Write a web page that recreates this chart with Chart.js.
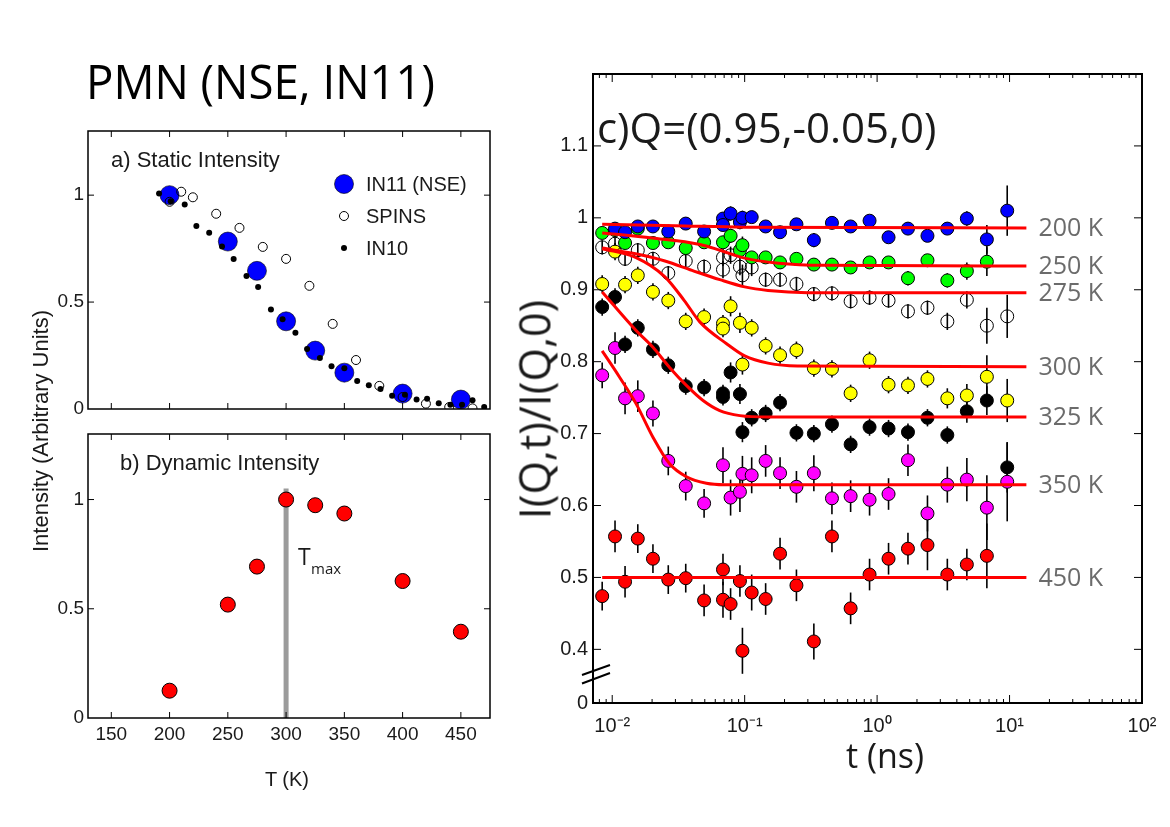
<!DOCTYPE html>
<html lang="en">
<head>
<meta charset="UTF-8">
<title>PMN (NSE, IN11)</title>
<script src="https://cdn.jsdelivr.net/npm/chart.js"></script>
<style>
  body { margin: 0; background: #fff; }
  #page { position: relative; width: 1170px; height: 827px; overflow: hidden; background: #fff; }
  #page canvas { position: absolute; left: 0; top: 0; }
  .lbl { position: absolute; white-space: nowrap; color: #1a1a1a; line-height: 1; }
  .sans { font-family: 'Liberation Sans', Arial, sans-serif; }
  .myr { font-family: 'Open Sans', sans-serif; }
  .rot { text-align: center; transform: rotate(-90deg); transform-origin: 50% 50%; }
</style>
</head>
<body>
<div id="page">
  <canvas id="chartA" width="1170" height="827"></canvas>
  <canvas id="chartB" width="1170" height="827"></canvas>
  <canvas id="chartC" width="1170" height="827"></canvas>

  <div class="lbl myr" style="left:86px;top:57px;font-size:48px;color:#000;transform:scaleX(0.95);transform-origin:0 0">PMN (NSE, IN11)</div>
  <div class="lbl sans" style="left:111px;top:149px;font-size:22px">a) Static Intensity</div>
  <div class="lbl sans" style="left:120px;top:452px;font-size:22px">b) Dynamic Intensity</div>
  <div class="lbl myr" style="left:298px;top:545px;font-size:23px">T</div>
  <div class="lbl myr" style="left:311px;top:561px;font-size:15px">max</div>
  <div class="lbl sans rot" style="left:-159px;top:420px;width:400px;font-size:22px">Intensity (Arbitrary Units)</div>
  <div class="lbl sans" style="left:187px;top:769px;width:200px;text-align:center;font-size:20px">T (K)</div>

  <div class="lbl myr" style="left:597px;top:106px;font-size:42px">c)Q=(0.95,-0.05,0)</div>
  <div class="lbl myr rot" style="left:334px;top:388px;width:400px;font-size:43px">I(Q,t)/I(Q,0)</div>
  <div class="lbl myr" style="left:785px;top:738px;width:200px;text-align:center;font-size:34px">t (ns)</div>
</div>

<script>
// ---------- a) static intensity ----------
const tempIN11 = [200, 250, 275, 300, 325, 350, 400, 450];
const staticIN11 = [1.0, 0.783, 0.646, 0.41, 0.273, 0.17, 0.072, 0.044];
const tempSPINS = [200, 210, 220, 240, 260, 280, 300, 320, 340, 360, 380, 400, 420, 440, 460];
const staticSPINS = [0.969, 1.016, 0.99, 0.913, 0.847, 0.758, 0.702, 0.576, 0.398, 0.229, 0.108, 0.056, 0.025, 0.009, 0.003];
const tempIN10 = [191, 201, 213, 223, 234, 245, 255, 266, 276, 287, 297, 308, 318, 329, 339, 350, 361, 371, 381, 391, 402, 412, 421, 431, 441, 451, 460, 470];
const staticIN10 = [1.008, 0.972, 0.956, 0.856, 0.824, 0.76, 0.702, 0.622, 0.571, 0.465, 0.42, 0.356, 0.281, 0.239, 0.2, 0.19, 0.131, 0.111, 0.094, 0.062, 0.067, 0.045, 0.048, 0.027, 0.02, 0.02, 0.041, 0.009];

// ---------- b) dynamic intensity ----------
const tempDyn = [200, 250, 275, 300, 325, 350, 400, 450];
const dynInt = [0.125, 0.519, 0.693, 1.0, 0.974, 0.936, 0.627, 0.395];
const tmaxT = [300, 300];
const tmaxI = [0, 1.05];

const tempTicks = [150, 200, 250, 300, 350, 400, 450];
const intTicks = [0, 0.5, 1];

// ---------- c) I(Q,t)/I(Q,0) ----------
const t200 = [0.0105, 0.0125, 0.0156, 0.0203, 0.0265, 0.0359, 0.0494, 0.0686, 0.0686, 0.0783, 0.0921, 0.0962, 0.113, 0.144, 0.185, 0.246, 0.333, 0.456, 0.631, 0.877, 1.22, 1.71, 2.40, 3.39, 4.76, 6.74, 9.6];
const v200 = [0.985, 0.980, 0.988, 0.988, 0.981, 0.992, 0.981, 0.999, 0.990, 1.006, 0.994, 1.000, 1.001, 0.988, 0.980, 0.991, 0.969, 0.993, 0.988, 0.996, 0.973, 0.985, 0.975, 0.985, 0.999, 0.970, 1.010];
const e200 = [0.006, 0.006, 0.006, 0.006, 0.006, 0.007, 0.007, 0.008, 0.008, 0.010, 0.010, 0.010, 0.008, 0.007, 0.008, 0.008, 0.010, 0.008, 0.007, 0.008, 0.007, 0.008, 0.008, 0.008, 0.010, 0.020, 0.035];

const t250 = [0.0084, 0.0105, 0.0125, 0.0156, 0.0203, 0.0265, 0.0359, 0.0494, 0.0686, 0.0783, 0.0921, 0.0962, 0.113, 0.144, 0.185, 0.246, 0.333, 0.456, 0.631, 0.877, 1.22, 1.71, 2.40, 3.39, 4.76, 6.74];
const v250 = [0.979, 0.983, 0.965, 0.985, 0.965, 0.966, 0.958, 0.966, 0.966, 0.975, 0.955, 0.962, 0.945, 0.945, 0.938, 0.943, 0.935, 0.935, 0.931, 0.938, 0.938, 0.916, 0.941, 0.913, 0.926, 0.939];
const e250 = [0.008, 0.008, 0.008, 0.008, 0.008, 0.008, 0.008, 0.008, 0.008, 0.010, 0.010, 0.012, 0.008, 0.008, 0.008, 0.008, 0.008, 0.008, 0.008, 0.008, 0.008, 0.010, 0.008, 0.010, 0.012, 0.020];

const t275 = [0.0084, 0.0105, 0.0125, 0.0156, 0.0203, 0.0265, 0.0359, 0.0494, 0.0686, 0.0686, 0.0783, 0.0921, 0.0962, 0.113, 0.144, 0.185, 0.246, 0.333, 0.456, 0.631, 0.877, 1.22, 1.71, 2.40, 3.39, 4.76, 6.74, 9.6];
const v275 = [0.959, 0.964, 0.943, 0.955, 0.943, 0.923, 0.940, 0.932, 0.945, 0.928, 0.948, 0.932, 0.920, 0.931, 0.914, 0.914, 0.908, 0.894, 0.895, 0.884, 0.889, 0.885, 0.870, 0.875, 0.856, 0.886, 0.850, 0.863];
const e275 = [0.010, 0.010, 0.010, 0.010, 0.010, 0.010, 0.010, 0.010, 0.012, 0.012, 0.012, 0.012, 0.015, 0.012, 0.010, 0.010, 0.010, 0.010, 0.010, 0.010, 0.010, 0.010, 0.010, 0.010, 0.012, 0.012, 0.025, 0.030];

const t300 = [0.0084, 0.0105, 0.0125, 0.0156, 0.0203, 0.0265, 0.0359, 0.0494, 0.0686, 0.0686, 0.0783, 0.0921, 0.0962, 0.113, 0.144, 0.185, 0.246, 0.333, 0.456, 0.631, 0.877, 1.22, 1.71, 2.40, 3.39, 4.76, 6.74, 9.6];
const v300 = [0.908, 0.953, 0.907, 0.920, 0.897, 0.885, 0.856, 0.862, 0.853, 0.846, 0.877, 0.854, 0.796, 0.847, 0.822, 0.809, 0.816, 0.791, 0.790, 0.756, 0.802, 0.768, 0.767, 0.776, 0.749, 0.753, 0.779, 0.746];
const e300 = [0.012, 0.012, 0.012, 0.012, 0.012, 0.012, 0.012, 0.012, 0.012, 0.012, 0.014, 0.014, 0.014, 0.012, 0.012, 0.012, 0.012, 0.012, 0.012, 0.012, 0.012, 0.012, 0.012, 0.012, 0.014, 0.016, 0.030, 0.030];

const t325 = [0.0084, 0.0105, 0.0125, 0.0156, 0.0203, 0.0265, 0.0359, 0.0494, 0.0686, 0.0686, 0.0783, 0.0921, 0.0962, 0.113, 0.144, 0.185, 0.246, 0.333, 0.456, 0.631, 0.877, 1.22, 1.71, 2.40, 3.39, 4.76, 6.74, 9.6];
const v325 = [0.876, 0.890, 0.824, 0.847, 0.817, 0.795, 0.766, 0.764, 0.756, 0.751, 0.785, 0.755, 0.702, 0.722, 0.728, 0.743, 0.701, 0.700, 0.713, 0.685, 0.709, 0.707, 0.702, 0.722, 0.698, 0.731, 0.746, 0.653];
const e325 = [0.012, 0.012, 0.012, 0.012, 0.012, 0.012, 0.012, 0.012, 0.012, 0.012, 0.014, 0.014, 0.014, 0.012, 0.012, 0.012, 0.012, 0.012, 0.012, 0.012, 0.012, 0.012, 0.012, 0.012, 0.012, 0.016, 0.020, 0.035];

const t350 = [0.0084, 0.0105, 0.0125, 0.0156, 0.0203, 0.0265, 0.0359, 0.0494, 0.0686, 0.0783, 0.0921, 0.0962, 0.113, 0.144, 0.185, 0.246, 0.333, 0.456, 0.631, 0.877, 1.22, 1.71, 2.40, 3.39, 4.76, 6.74, 9.6];
const v350 = [0.781, 0.819, 0.749, 0.752, 0.728, 0.662, 0.627, 0.603, 0.656, 0.611, 0.619, 0.644, 0.642, 0.662, 0.645, 0.626, 0.645, 0.610, 0.613, 0.608, 0.616, 0.663, 0.589, 0.629, 0.636, 0.597, 0.633];
const e350 = [0.018, 0.022, 0.022, 0.022, 0.018, 0.020, 0.020, 0.020, 0.025, 0.025, 0.028, 0.025, 0.025, 0.022, 0.022, 0.022, 0.025, 0.022, 0.022, 0.022, 0.022, 0.022, 0.025, 0.025, 0.030, 0.045, 0.055];

const t450 = [0.0084, 0.0105, 0.0125, 0.0156, 0.0203, 0.0265, 0.0359, 0.0494, 0.0686, 0.0686, 0.0783, 0.0921, 0.0962, 0.113, 0.144, 0.185, 0.246, 0.333, 0.456, 0.631, 0.877, 1.22, 1.71, 2.40, 3.39, 4.76, 6.74];
const v450 = [0.474, 0.557, 0.494, 0.554, 0.526, 0.497, 0.499, 0.468, 0.511, 0.469, 0.463, 0.495, 0.398, 0.479, 0.470, 0.533, 0.489, 0.411, 0.557, 0.457, 0.504, 0.526, 0.540, 0.545, 0.504, 0.518, 0.530];
const e450 = [0.020, 0.022, 0.022, 0.020, 0.020, 0.020, 0.020, 0.022, 0.022, 0.025, 0.022, 0.022, 0.032, 0.025, 0.022, 0.022, 0.022, 0.025, 0.022, 0.022, 0.022, 0.022, 0.022, 0.035, 0.022, 0.022, 0.045];

// fitted curves
const fitT200 = [0.0084, 0.03, 0.1, 13.4];
const fitV200 = [0.991, 0.989, 0.987, 0.986];
const fitT250 = [0.0084, 0.02, 0.046, 0.065, 0.1, 0.18, 0.4, 13.4];
const fitV250 = [0.979, 0.972, 0.963, 0.955, 0.944, 0.937, 0.934, 0.933];
const fitT275 = [0.0084, 0.015, 0.025, 0.04, 0.065, 0.1, 0.15, 0.3, 13.4];
const fitV275 = [0.958, 0.950, 0.940, 0.927, 0.914, 0.904, 0.899, 0.896, 0.896];
const fitT300 = [0.0084, 0.015, 0.025, 0.035, 0.046, 0.073, 0.1, 0.15, 0.25, 13.4];
const fitV300 = [0.957, 0.945, 0.918, 0.885, 0.855, 0.825, 0.808, 0.798, 0.794, 0.793];
const fitT325 = [0.0084, 0.0152, 0.0203, 0.0271, 0.0363, 0.0485, 0.0648, 0.092, 0.15, 13.4];
const fitV325 = [0.897, 0.843, 0.820, 0.792, 0.767, 0.746, 0.732, 0.725, 0.723, 0.723];
const fitT350 = [0.0084, 0.0114, 0.0152, 0.0203, 0.0271, 0.0363, 0.0514, 0.07, 13.4];
const fitV350 = [0.815, 0.778, 0.741, 0.695, 0.658, 0.640, 0.631, 0.629, 0.629];
const fitT450 = [0.0084, 13.4];
const fitV450 = [0.5, 0.5];

const tempLabels = ['200 K', '250 K', '275 K', '300 K', '325 K', '350 K', '450 K'];
const seriesColors = ['#0000ff', '#00ff00', 'rgba(0,0,0,0)', '#ffff00', '#000000', '#ff00ff', '#ff0000'];
const yTicksC = [0.4, 0.5, 0.6, 0.7, 0.8, 0.9, 1, 1.1];
const yMinC = 0.3254;   // bottom of the broken axis, labelled 0
const xMinC = 0.00716;
const xMaxC = 100;
const decadeLabels = { '-2': '10\u207B\u00B2', '-1': '10\u207B\u00B9', '0': '10\u2070', '1': '10\u00B9', '2': '10\u00B2' };

Chart.defaults.font.family = "'Liberation Sans', Arial, sans-serif";
Chart.defaults.color = '#000';
Chart.defaults.animation = false;
Chart.defaults.events = [];
Chart.defaults.plugins.legend.display = false;
Chart.defaults.plugins.tooltip.enabled = false;

const pts = (xs, ys) => xs.map((x, i) => ({ x: x, y: ys[i] }));

function isMinor(scale, v) {
  if (scale.type !== 'logarithmic') return false;
  const l = Math.log10(v);
  return Math.abs(l - Math.round(l)) > 1e-6;
}

// box + inward ticks on all four sides, like the matlab axes
const frame = {
  id: 'frame',
  afterDraw(chart, args, o) {
    const { ctx, chartArea: a, scales: { x, y } } = chart;
    const len = o.tick || 6, mlen = o.minor || 3;
    ctx.save();
    ctx.strokeStyle = '#000';
    ctx.lineWidth = o.lw || 1.5;
    ctx.strokeRect(a.left, a.top, a.right - a.left, a.bottom - a.top);
    ctx.lineWidth = 1;
    ctx.beginPath();
    x.ticks.forEach(t => {
      const px = x.getPixelForValue(t.value);
      if (px <= a.left + 1 || px >= a.right - 1) return;
      const l = isMinor(x, t.value) ? mlen : len;
      ctx.moveTo(px, a.bottom); ctx.lineTo(px, a.bottom - l);
      ctx.moveTo(px, a.top); ctx.lineTo(px, a.top + l);
    });
    y.ticks.forEach(t => {
      const py = y.getPixelForValue(t.value);
      if (py <= a.top + 1 || py >= a.bottom - 1) return;
      ctx.moveTo(a.left, py); ctx.lineTo(a.left + len, py);
      ctx.moveTo(a.right, py); ctx.lineTo(a.right - len, py);
    });
    ctx.stroke();
    if (o.axisBreak) {
      ctx.lineWidth = 2;
      ctx.beginPath();
      ctx.moveTo(a.left - 11, a.bottom - 28); ctx.lineTo(a.left + 17, a.bottom - 38);
      ctx.moveTo(a.left - 11, a.bottom - 19.5); ctx.lineTo(a.left + 17, a.bottom - 30);
      ctx.stroke();
    }
    ctx.restore();
  }
};

// vertical error bars, drawn under the markers
const errorBars = {
  id: 'errorBars',
  beforeDatasetsDraw(chart) {
    const { ctx, scales: { x, y } } = chart;
    ctx.save();
    ctx.strokeStyle = '#000';
    ctx.lineWidth = 1.6;
    chart.data.datasets.forEach(ds => {
      if (!ds.errors) return;
      ds.data.forEach((p, i) => {
        const px = x.getPixelForValue(p.x);
        ctx.beginPath();
        ctx.moveTo(px, y.getPixelForValue(p.y - ds.errors[i]));
        ctx.lineTo(px, y.getPixelForValue(p.y + ds.errors[i]));
        ctx.stroke();
      });
    });
    ctx.restore();
  }
};

// temperature tags at the right end of every fit
const fitTags = {
  id: 'fitTags',
  afterDatasetsDraw(chart) {
    const { ctx, scales: { x, y } } = chart;
    ctx.save();
    ctx.font = "25px 'Open Sans'";
    ctx.fillStyle = '#6b6b6b';
    ctx.textBaseline = 'middle';
    chart.data.datasets.forEach(ds => {
      if (!ds.tag) return;
      const last = ds.data[ds.data.length - 1];
      ctx.fillText(ds.tag, x.getPixelForValue(last.x) + 12, y.getPixelForValue(last.y) + 1);
    });
    ctx.restore();
  }
};

// legend of panel a, inside the box
const legendA = {
  id: 'legendA',
  afterDraw(chart) {
    const { ctx, chartArea: a } = chart;
    ctx.save();
    ctx.font = "20px 'Liberation Sans'";
    ctx.textBaseline = 'middle';
    chart.data.datasets.forEach((ds, i) => {
      const cx = a.left + 256, cy = a.top + 53 + i * 32;
      ctx.beginPath();
      ctx.arc(cx, cy, ds.pointRadius, 0, Math.PI * 2);
      ctx.fillStyle = ds.backgroundColor;
      ctx.fill();
      if (ds.borderWidth) { ctx.lineWidth = ds.borderWidth; ctx.strokeStyle = ds.borderColor; ctx.stroke(); }
      ctx.fillStyle = '#1a1a1a';
      ctx.fillText(ds.label, cx + 22, cy + 1);
    });
    ctx.restore();
  }
};

function tempAxis(showLabels) {
  return {
    type: 'linear', min: 130, max: 475, bounds: 'data',
    afterBuildTicks: s => { s.ticks = tempTicks.map(v => ({ value: v })); },
    ticks: { display: showLabels, font: { size: 19 }, color: '#1a1a1a', padding: 5, maxRotation: 0, autoSkip: false },
    grid: { display: false, drawTicks: false },
    border: { display: false },
    afterFit: s => { s.height = showLabels ? 40 : 10; }
  };
}

function intAxis() {
  return {
    type: 'linear', min: 0, max: 1.3, bounds: 'data',
    afterBuildTicks: s => { s.ticks = intTicks.map(v => ({ value: v })); },
    ticks: { font: { size: 19 }, color: '#1a1a1a', padding: 4, callback: v => String(v) },
    grid: { display: false, drawTicks: false },
    border: { display: false },
    afterFit: s => { s.width = 60; }
  };
}

// panel a
new Chart(document.getElementById('chartA'), {
  type: 'scatter',
  data: {
    datasets: [
      { label: 'IN11 (NSE)', data: pts(tempIN11, staticIN11), backgroundColor: '#0000ff', borderColor: '#000', borderWidth: 0.6, pointRadius: 9.5, order: 3 },
      { label: 'SPINS', data: pts(tempSPINS, staticSPINS), backgroundColor: 'rgba(0,0,0,0)', borderColor: '#000', borderWidth: 1, pointRadius: 4.5, order: 2 },
      { label: 'IN10', data: pts(tempIN10, staticIN10), backgroundColor: '#000', borderColor: '#000', borderWidth: 0, pointRadius: 3, order: 1 }
    ]
  },
  options: {
    responsive: false,
    layout: { padding: { left: 28, right: 680, top: 131, bottom: 408 }, autoPadding: false },
    scales: { x: tempAxis(false), y: intAxis() },
    plugins: { frame: { tick: 6 } }
  },
  plugins: [frame, legendA]
});

// panel b
new Chart(document.getElementById('chartB'), {
  type: 'scatter',
  data: {
    datasets: [
      { label: 'dynamic', data: pts(tempDyn, dynInt), backgroundColor: '#ff0000', borderColor: '#000', borderWidth: 1, pointRadius: 7.5, order: 1 },
      { label: 'Tmax', data: pts(tmaxT, tmaxI), showLine: true, borderColor: '#9b9b9b', borderWidth: 5, pointRadius: 0, order: 2 }
    ]
  },
  options: {
    responsive: false,
    layout: { padding: { left: 28, right: 680, top: 434, bottom: 69 }, autoPadding: false },
    scales: { x: tempAxis(true), y: intAxis() },
    plugins: { frame: { tick: 6 } }
  },
  plugins: [frame]
});

// panel c
const pointSets = [
  [t200, v200, e200], [t250, v250, e250], [t275, v275, e275], [t300, v300, e300],
  [t325, v325, e325], [t350, v350, e350], [t450, v450, e450]
];
const fitSets = [
  [fitT200, fitV200], [fitT250, fitV250], [fitT275, fitV275], [fitT300, fitV300],
  [fitT325, fitV325], [fitT350, fitV350], [fitT450, fitV450]
];

const datasetsC = [];
fitSets.forEach((f, i) => {
  datasetsC.push({
    label: 'fit ' + tempLabels[i], data: pts(f[0], f[1]), tag: tempLabels[i],
    showLine: true, borderColor: '#ff0000', borderWidth: 3, pointRadius: 0,
    cubicInterpolationMode: 'monotone', order: 0
  });
});
pointSets.forEach((s, i) => {
  datasetsC.push({
    label: tempLabels[i], data: pts(s[0], s[1]), errors: s[2],
    backgroundColor: seriesColors[i], borderColor: '#000', borderWidth: 1, pointRadius: 6.5, order: 1
  });
});

new Chart(document.getElementById('chartC'), {
  type: 'scatter',
  data: { datasets: datasetsC },
  options: {
    responsive: false,
    layout: { padding: { left: 533, right: 28, top: 74, bottom: 84 }, autoPadding: false },
    scales: {
      x: {
        type: 'logarithmic', min: xMinC, max: xMaxC,
        afterBuildTicks: s => {
          const vals = [];
          Object.keys(decadeLabels).map(Number).concat([-3]).sort((p, q) => p - q).forEach(e => {
            for (let k = 1; k <= 9; k++) {
              const v = k * Math.pow(10, e);
              if (v >= xMinC * 0.999 && v <= xMaxC * 1.001) vals.push(v);
            }
          });
          s.ticks = vals.map(v => ({ value: v }));
        },
        ticks: {
          font: { size: 20 }, color: '#1a1a1a', padding: 11, maxRotation: 0, autoSkip: false,
          callback: v => {
            const l = Math.log10(v), r = Math.round(l);
            return Math.abs(l - r) < 1e-6 ? decadeLabels[String(r)] : '';
          }
        },
        grid: { display: false, drawTicks: false },
        border: { display: false },
        afterFit: s => { s.height = 40; }
      },
      y: {
        type: 'linear', min: yMinC, max: 1.2, bounds: 'data',
        afterBuildTicks: s => { s.ticks = [yMinC].concat(yTicksC).map(v => ({ value: v })); },
        ticks: {
          font: { size: 20 }, color: '#1a1a1a', padding: 5,
          callback: v => (v === yMinC ? '0' : String(Math.round(v * 10) / 10))
        },
        grid: { display: false, drawTicks: false },
        border: { display: false },
        afterFit: s => { s.width = 60; }
      }
    },
    plugins: { frame: { tick: 8, minor: 4, lw: 2, axisBreak: true } }
  },
  plugins: [frame, errorBars, fitTags]
});
</script>
</body>
</html>
